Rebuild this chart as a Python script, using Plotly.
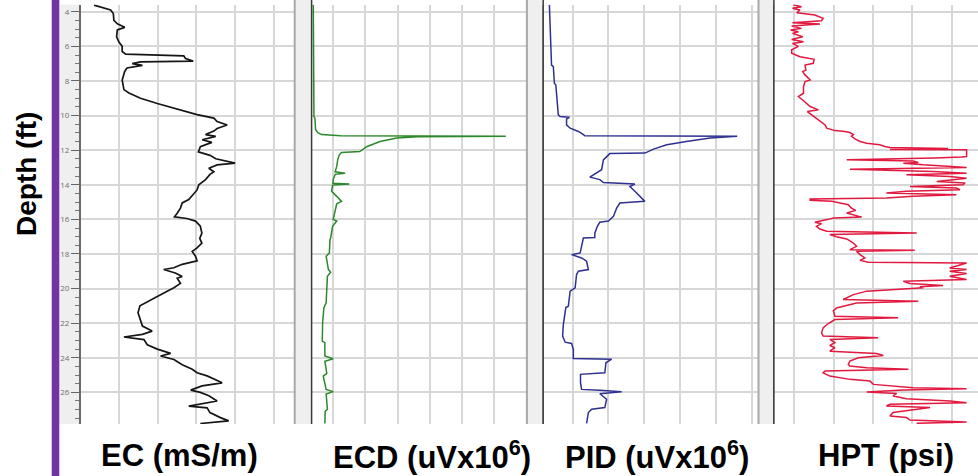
import plotly.graph_objects as go

# ---------------- data (depth in ft, values in panel units) ----------------
EC_DEPTH = [3.62, 3.90, 4.10, 4.50, 4.70, 4.90, 5.05, 5.45, 5.75, 6.00, 6.30, 6.45, 6.55, 6.70, 6.85,
            6.90, 7.00, 7.10, 7.25, 7.45, 7.95, 8.50, 8.70, 9.00, 9.30, 9.70, 9.95, 10.15, 10.35, 10.55,
            10.75, 10.90, 11.10, 11.20, 11.40, 11.55, 11.80, 12.10, 12.30, 12.50, 12.75, 12.85, 13.05,
            13.25, 13.40, 13.70, 14.00, 14.30, 14.60, 14.85, 15.05, 15.35, 15.65, 15.85, 15.95, 16.10,
            16.40, 16.80, 17.10, 17.37, 17.65, 17.85, 18.13, 18.40, 18.60, 18.80, 18.90, 19.10, 19.30,
            19.40, 19.70, 19.95, 20.15, 20.45, 20.73, 21.00, 21.40, 21.80, 22.17, 22.46, 22.65, 22.80,
            22.95, 23.25, 23.50, 23.75, 23.90, 24.10, 24.40, 24.67, 24.87, 25.05, 25.25, 25.45, 25.63,
            25.87, 26.00, 26.20, 26.50, 26.70, 26.80, 26.90, 27.17, 27.46, 27.65, 27.80]
EC_VALUE = [6.9, 15.5, 16.9, 17.2, 19.0, 22.8, 19.0, 18.6, 19.8, 21.5, 21.5, 23.3, 53.4, 54.3, 58.3,
            31.0, 26.7, 32.0, 24.0, 22.8, 21.5, 22.4, 25.0, 31.0, 39.7, 51.7, 60.3, 69.0, 70.7, 75.9,
            70.7, 69.0, 64.7, 70.0, 63.0, 68.0, 62.0, 61.0, 67.0, 70.0, 80.0, 70.7, 66.4,
            69.0, 67.0, 64.7, 61.2, 60.3, 57.8, 56.0, 52.6, 51.7, 50.0, 48.6, 55.0, 59.5,
            62.0, 62.8, 61.7, 62.8, 60.3, 57.8, 59.5, 60.3, 52.6, 48.3, 43.0, 49.0, 52.6,
            50.0, 51.7, 48.3, 44.8, 39.7, 34.5, 30.7, 29.7, 31.0, 32.0, 37.0, 32.0, 22.4,
            32.8, 34.5, 39.7, 46.6, 41.4, 48.3, 52.6, 57.8, 60.3, 65.5, 69.8, 73.3, 62.9,
            57.0, 62.0, 66.4, 70.7, 62.0, 56.0, 65.5, 67.0, 72.4, 76.7, 62.0]

ECD_DEPTH = [3.60, 5.25, 8.10, 9.10, 10.06, 10.15, 10.80, 11.00, 11.10, 11.17, 11.19, 11.22, 11.30,
             11.50, 11.80, 12.08, 12.14, 12.27, 12.56, 12.94, 13.25, 13.33, 13.40, 13.70, 13.92, 13.96,
             14.02, 14.38, 14.67, 14.96, 15.10, 15.44, 16.00, 16.10, 16.40, 17.08, 17.17, 17.94, 18.13,
             18.90, 19.06, 19.29, 20.83, 21.10, 21.98, 23.04, 23.13, 23.90, 24.06, 24.20, 24.90, 25.06,
             25.83, 25.96, 26.10, 26.98, 27.10, 27.80]
ECD_VALUE = [0.05, 0.05, 0.05, 0.07, 0.07, 0.10, 0.12, 0.20, 0.31, 0.90, 6.05, 3.30, 2.65,
             2.13, 1.71, 1.50, 0.93, 0.86, 0.81, 0.78, 0.73, 1.04, 0.73, 0.67, 0.66, 1.17,
             0.65, 0.62, 0.78, 0.93, 0.78, 0.73, 0.67, 0.78, 0.65, 0.59, 0.57, 0.55, 0.45,
             0.52, 0.59, 0.49, 0.45, 0.38, 0.34, 0.33, 0.41, 0.41, 0.67, 0.41, 0.47, 0.36,
             0.45, 0.67, 0.45, 0.49, 0.42, 0.41]

PID_DEPTH = [3.60, 4.87, 6.00, 7.08, 7.17, 8.13, 8.23, 9.10, 9.96, 10.06, 10.10, 10.20, 10.54, 10.73,
             10.92, 11.08, 11.16, 11.19, 11.30, 11.50, 11.69, 11.94, 12.17, 12.20, 12.33, 12.56, 13.13,
             13.29, 13.37, 13.56, 13.70, 13.87, 13.96, 14.10, 14.38, 14.67, 14.96, 15.06, 15.35, 15.83,
             16.10, 16.17, 16.40, 16.80, 17.05, 17.08, 17.94, 18.04, 18.23, 18.42, 18.90, 19.00, 19.19,
             19.96, 20.15, 21.02, 21.10, 22.08, 22.75, 23.10, 23.17, 23.52, 24.04, 24.08, 24.29, 24.87,
             24.96, 25.44, 25.83, 25.88, 25.96, 26.08, 26.40, 26.88, 26.98, 27.17, 27.80]
PID_VALUE = [0.17, 0.19, 0.21, 0.23, 0.28, 0.31, 0.35, 0.39, 0.42, 0.47, 0.73, 0.65, 0.65, 0.75,
             0.98, 1.10, 1.16, 5.42, 4.66, 4.00, 3.45, 3.08, 2.84, 1.86, 1.79, 1.68, 1.63,
             1.51, 1.47, 1.30, 1.58, 1.68, 2.56, 2.42, 2.56, 2.70, 2.84, 2.14, 2.05, 1.96,
             1.82, 1.58, 1.51, 1.44, 1.44, 1.12, 1.03, 0.79, 1.07, 1.21, 1.26, 0.98, 0.93,
             0.89, 0.75, 0.70, 0.63, 0.56, 0.54, 0.61, 0.79, 0.84, 0.84, 1.91, 1.75, 1.72,
             1.04, 1.04, 1.07, 1.58, 2.19, 1.58, 1.77, 1.72, 1.35, 1.26, 1.21]

HPT_DEPTH = [3.60, 3.71, 3.80, 3.90, 4.06, 4.19, 4.38, 4.52, 4.63, 4.71, 4.83, 4.96, 5.06, 5.15, 5.25,
             5.44, 5.60, 5.73, 5.83, 6.00, 6.20, 6.40, 6.60, 6.70, 6.75, 6.98, 7.08, 7.37, 7.46, 7.65,
             7.94, 8.04, 8.33, 8.71, 8.90, 9.10, 9.29, 9.48, 9.67, 9.77, 9.96, 10.15, 10.35, 10.54,
             10.73, 10.87, 10.92, 10.98, 11.10, 11.20, 11.35, 11.50, 11.60, 11.69, 11.79, 11.85, 11.90,
             11.96, 11.98, 12.37, 12.40, 12.46, 12.56, 12.62, 12.71, 12.75, 12.85, 13.00, 13.10, 13.17,
             13.23, 13.33, 13.42, 13.52, 13.62, 13.81, 13.90, 14.00, 14.10, 14.19, 14.29, 14.38, 14.48,
             14.58, 14.67, 14.77, 14.83, 14.90, 14.96, 15.15, 15.35, 15.48, 15.63, 15.87, 15.92, 16.00,
             16.17, 16.25, 16.40, 16.56, 16.69, 16.79, 16.88, 17.00, 17.13, 17.37, 17.56, 17.75, 17.79,
             17.85, 18.04, 18.23, 18.37, 18.48, 18.52, 18.81, 18.90, 19.00, 19.13, 19.29, 19.48, 19.58,
             19.71, 19.83, 19.90, 19.96, 20.15, 20.35, 20.54, 20.63, 20.73, 20.83, 21.12, 21.30, 21.60,
             21.69, 21.79, 22.02, 22.27, 22.56, 22.75, 22.85, 22.94, 23.13, 23.29, 23.42, 23.62, 23.75,
             23.87, 24.00, 24.19, 24.38, 24.48, 24.58, 24.67, 24.77, 24.87, 25.06, 25.25, 25.35, 25.54,
             25.73, 25.79, 25.87, 25.98, 26.06, 26.21, 26.37, 26.50, 26.60, 26.69, 26.79, 26.88, 26.98,
             27.08, 27.17, 27.37, 27.46, 27.60, 27.71, 27.79]
HPT_VALUE = [0.49, 0.70, 0.47, 0.66, 0.58, 1.04, 1.25, 1.21, 0.47, 1.17, 0.45, 0.70, 0.42, 0.62, 0.47,
             0.73, 0.45, 0.75, 0.47, 0.62, 0.45, 0.45, 0.66, 0.92, 1.02, 1.00, 0.79, 0.81, 0.73, 0.79,
             0.92, 0.79, 0.75, 0.75, 0.62, 0.73, 0.83, 0.92, 1.13, 0.85, 0.96, 1.08, 1.21, 1.30,
             1.34, 1.55, 1.80, 1.93, 2.02, 1.97, 2.06, 2.19, 2.36, 2.69, 2.82, 2.95, 4.43,
             2.95, 4.90, 4.90, 4.77, 4.09, 1.85, 3.54, 3.67, 3.29, 3.80, 4.90, 1.93, 3.03,
             4.05, 4.90, 3.37, 4.47, 4.90, 4.14, 4.86, 4.81, 3.46, 4.64, 4.73, 3.37, 2.86,
             4.64, 3.54, 2.86, 0.92, 0.92, 1.47, 1.89, 1.97, 2.08, 1.85, 2.23, 1.51, 1.38,
             1.04, 1.21, 1.08, 1.17, 1.34, 3.63, 1.42, 1.59, 1.85, 2.02, 2.10, 1.93, 3.58,
             2.10, 2.19, 2.31, 2.19, 2.40, 4.90, 4.47, 4.90, 4.47, 4.90, 4.47, 4.90, 3.29,
             3.46, 4.30, 3.71, 3.80, 2.36, 2.02, 1.85, 1.76, 3.67, 2.10, 1.59, 1.51, 1.55,
             3.16, 1.55, 1.38, 1.25, 1.21, 1.25, 2.65, 1.42, 1.55, 1.42, 1.55, 1.42, 2.61,
             2.78, 2.14, 1.93, 1.89, 1.93, 2.36, 3.42, 1.30, 1.25, 1.42, 1.93, 2.44, 2.53,
             3.54, 4.90, 3.29, 2.36, 3.12, 3.03, 3.37, 4.47, 4.90, 2.95, 2.86, 3.97, 3.63,
             3.20, 3.03, 2.95, 3.37, 3.46, 4.90, 3.63]

DEPTH_TICKS = [4, 6, 8, 10, 12, 14, 16, 18, 20, 22, 24, 26]
DEPTH_TICKTEXT = [str(t) for t in DEPTH_TICKS]
PANEL_TITLES = ["EC (mS/m)", "ECD (uVx10<sup>6</sup>)", "PID (uVx10<sup>6</sup>)", "HPT (psi)"]
Y_TITLE = "Depth (ft)"

# ---------------- layout helpers ----------------
W, H = 978, 476


def px(x):
    return x / W


def py(y):
    return 1 - y / H


TOP, BOT = 4.5, 424.0
Y_RANGE = [27.83, 3.58]
GRID = "#d7d7d7"

panels = [
    # (left px, right px, range max, tick0, dtick, color, width, depth, values)
    (80.7, 294.5, 110.8, 0, 20, "#151515", 1.7, EC_DEPTH, EC_VALUE),
    (311.7, 526.7, 6.70, 0.675, 1, "#2b882b", 1.5, ECD_DEPTH, ECD_VALUE),
    (543.3, 758.3, 6.01, 0.82, 1, "#2f3191", 1.5, PID_DEPTH, PID_VALUE),
    (774.0, 978.0, 5.19, 0.516, 1, "#e1193f", 1.5, HPT_DEPTH, HPT_VALUE),
]

fig = go.Figure()
layout = dict(
    width=W, height=H, margin=dict(l=0, r=0, t=0, b=0),
    paper_bgcolor="white", plot_bgcolor="white", showlegend=False,
)

for i, (l, r, rmax, t0, dt, col, lw, dep, val) in enumerate(panels):
    n = "" if i == 0 else str(i + 1)
    fig.add_trace(go.Scatter(x=val, y=dep, mode="lines", xaxis="x" + n, yaxis="y" + n,
                             line=dict(color=col, width=lw), hoverinfo="skip"))
    layout["xaxis" + n] = dict(domain=[px(l), px(r)], range=[0, rmax], anchor="y" + n,
                               tickmode="linear", tick0=t0, dtick=dt, showgrid=True,
                               gridcolor=GRID, gridwidth=1.5, showticklabels=False,
                               ticks="", zeroline=False, showline=False, fixedrange=True)
    ya = dict(domain=[py(BOT), py(TOP)], range=Y_RANGE, anchor="x" + n,
              tickmode="array", tickvals=DEPTH_TICKS, ticktext=DEPTH_TICKTEXT,
              showgrid=True, gridcolor=GRID, gridwidth=1.5, zeroline=False,
              showline=True, linewidth=1.5, fixedrange=True)
    if i == 0:
        ya.update(showticklabels=True, ticks="outside", ticklen=8, tickwidth=1,
                  tickcolor="#666666", linecolor="#6a6a6a",
                  tickfont=dict(family="Open Sans", size=8, color="#6e6e6e"),
                  minor=dict(tickmode="linear", tick0=0, dtick=0.5, ticks="outside",
                             ticklen=4, tickwidth=1, tickcolor="#777777", showgrid=False))
    else:
        ya.update(showticklabels=False, ticks="", linecolor="#3a3a3a")
    layout["yaxis" + n] = ya

shapes = []
# purple bar at far left
shapes.append(dict(type="rect", xref="paper", yref="paper", x0=px(51.7), x1=px(59.3),
                   y0=0, y1=1, fillcolor="#7234a3", line=dict(width=0), layer="above"))
# tick-label strip background
shapes.append(dict(type="rect", xref="paper", yref="paper", x0=px(59.3), x1=px(80.7),
                   y0=py(BOT), y1=py(TOP), fillcolor="#efefef", line=dict(width=0), layer="below"))
# grey separators between panels
for l, r in [(295.2, 311.0), (527.4, 542.6), (759.0, 773.3)]:
    shapes.append(dict(type="rect", xref="paper", yref="paper", x0=px(l), x1=px(r),
                       y0=py(BOT), y1=1, fillcolor="#efefef", line=dict(width=0), layer="above"))
    shapes.append(dict(type="line", xref="paper", yref="paper", x0=px(l - 0.5), x1=px(l - 0.5),
                       y0=py(BOT), y1=1, line=dict(color="#a8a8a8", width=2), layer="above"))
    shapes.append(dict(type="line", xref="paper", yref="paper", x0=px(r + 0.6), x1=px(r + 0.6),
                       y0=py(BOT), y1=1, line=dict(color="#3a3a3a", width=1.5), layer="above"))
layout["shapes"] = shapes

annotations = []
for title, xc in zip(PANEL_TITLES, [179, 432, 657, 886]):
    annotations.append(dict(text="<b>" + title + "</b>", xref="paper", yref="paper",
                            x=px(xc), y=py(455), xanchor="center", yanchor="middle",
                            showarrow=False,
                            font=dict(family="Liberation Sans, Arial", size=31, color="black")))
annotations.append(dict(text="<b>" + Y_TITLE + "</b>", xref="paper", yref="paper",
                        x=px(26), y=py(174), xanchor="center", yanchor="middle",
                        textangle=-90, showarrow=False,
                        font=dict(family="Liberation Sans, Arial", size=28, color="black")))
layout["annotations"] = annotations

fig.update_layout(**layout)
fig.write_html("out.html", config={"displayModeBar": False},
               post_script="document.body.style.margin='0';document.body.style.padding='0';"
                           "document.body.style.overflow='hidden';")
